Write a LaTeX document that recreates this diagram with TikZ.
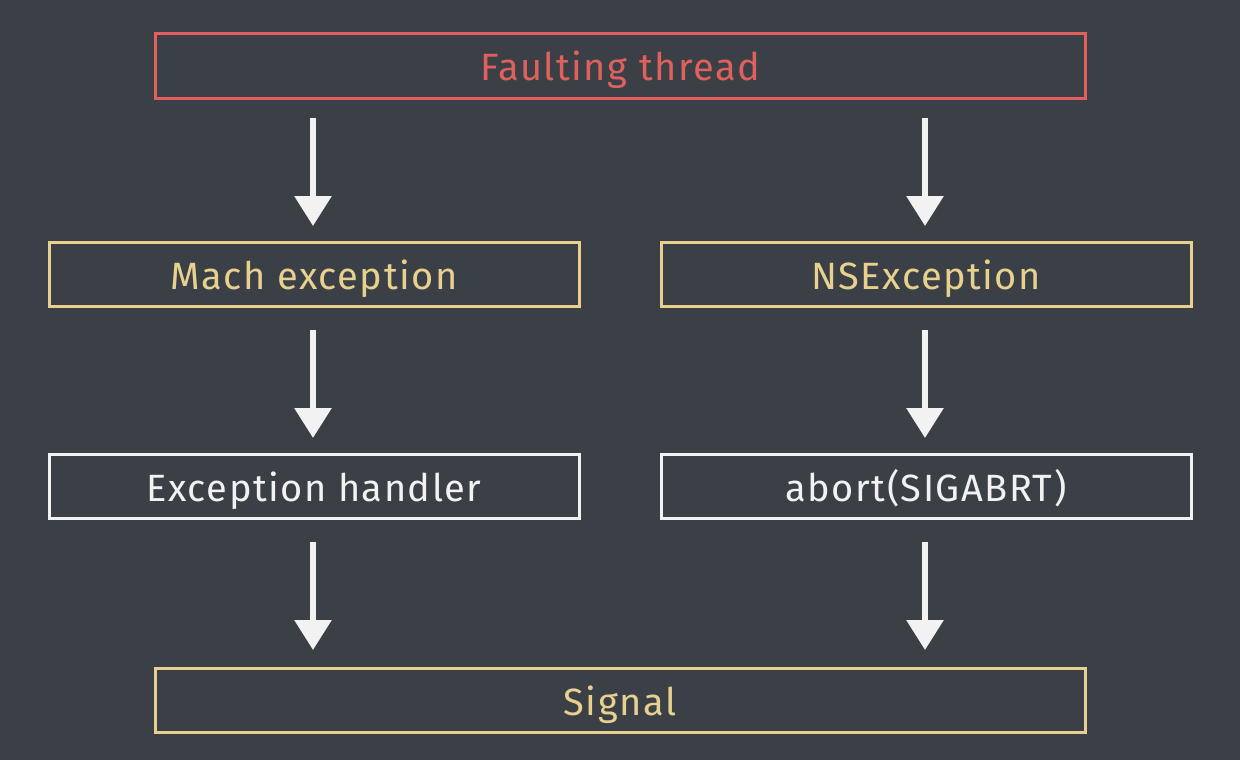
\documentclass[tikz,border=0pt]{standalone}
\usepackage{fontspec}
\setmainfont{Fira Sans}[LetterSpace=4]
\usetikzlibrary{arrows.meta}
\definecolor{board}{HTML}{3B4047}
\definecolor{chalkred}{HTML}{E0605E}
\definecolor{chalkyellow}{HTML}{E8D08E}
\definecolor{chalkwhite}{HTML}{F2F2F2}
\tikzset{
  chalkbox/.style={draw=#1, text=#1, line width=3pt, minimum height=64pt, font=\fontsize{38}{42}\selectfont, inner sep=0pt, text height=30pt, text depth=0pt},
  wide/.style={minimum width=930pt},
  half/.style={minimum width=530pt},
  chalkarrow/.style={draw=chalkwhite, line width=6pt, -{Triangle[width=36pt,length=30pt]}}
}
\begin{document}
\begin{tikzpicture}[x=1pt,y=-1pt]
\fill[board] (0,0) rectangle (1240,760);
\useasboundingbox (0,0) rectangle (1240,760);
\node[chalkbox=chalkred, wide] (ft) at (620,66) {Faulting thread};
\node[chalkbox=chalkyellow, half] (mach) at (314,274) {Mach exception};
\node[chalkbox=chalkyellow, half] (nse) at (926,274) {NSException};
\node[chalkbox=chalkwhite, half] (eh) at (314,486) {Exception handler};
\node[chalkbox=chalkwhite, half] (ab) at (926,486) {abort(SIGABRT)};
\node[chalkbox=chalkyellow, wide] (sig) at (620,700) {Signal};
\coordinate (a1s) at (313,118); \coordinate (a1e) at (313,226);
\coordinate (a2s) at (925,118); \coordinate (a2e) at (925,226);
\coordinate (b1s) at (313,330); \coordinate (b1e) at (313,438);
\coordinate (b2s) at (925,330); \coordinate (b2e) at (925,438);
\coordinate (c1s) at (313,542); \coordinate (c1e) at (313,650);
\coordinate (c2s) at (925,542); \coordinate (c2e) at (925,650);
\draw[chalkarrow] (a1s) -- (a1e);
\draw[chalkarrow] (a2s) -- (a2e);
\draw[chalkarrow] (b1s) -- (b1e);
\draw[chalkarrow] (b2s) -- (b2e);
\draw[chalkarrow] (c1s) -- (c1e);
\draw[chalkarrow] (c2s) -- (c2e);
\end{tikzpicture}
\end{document}
